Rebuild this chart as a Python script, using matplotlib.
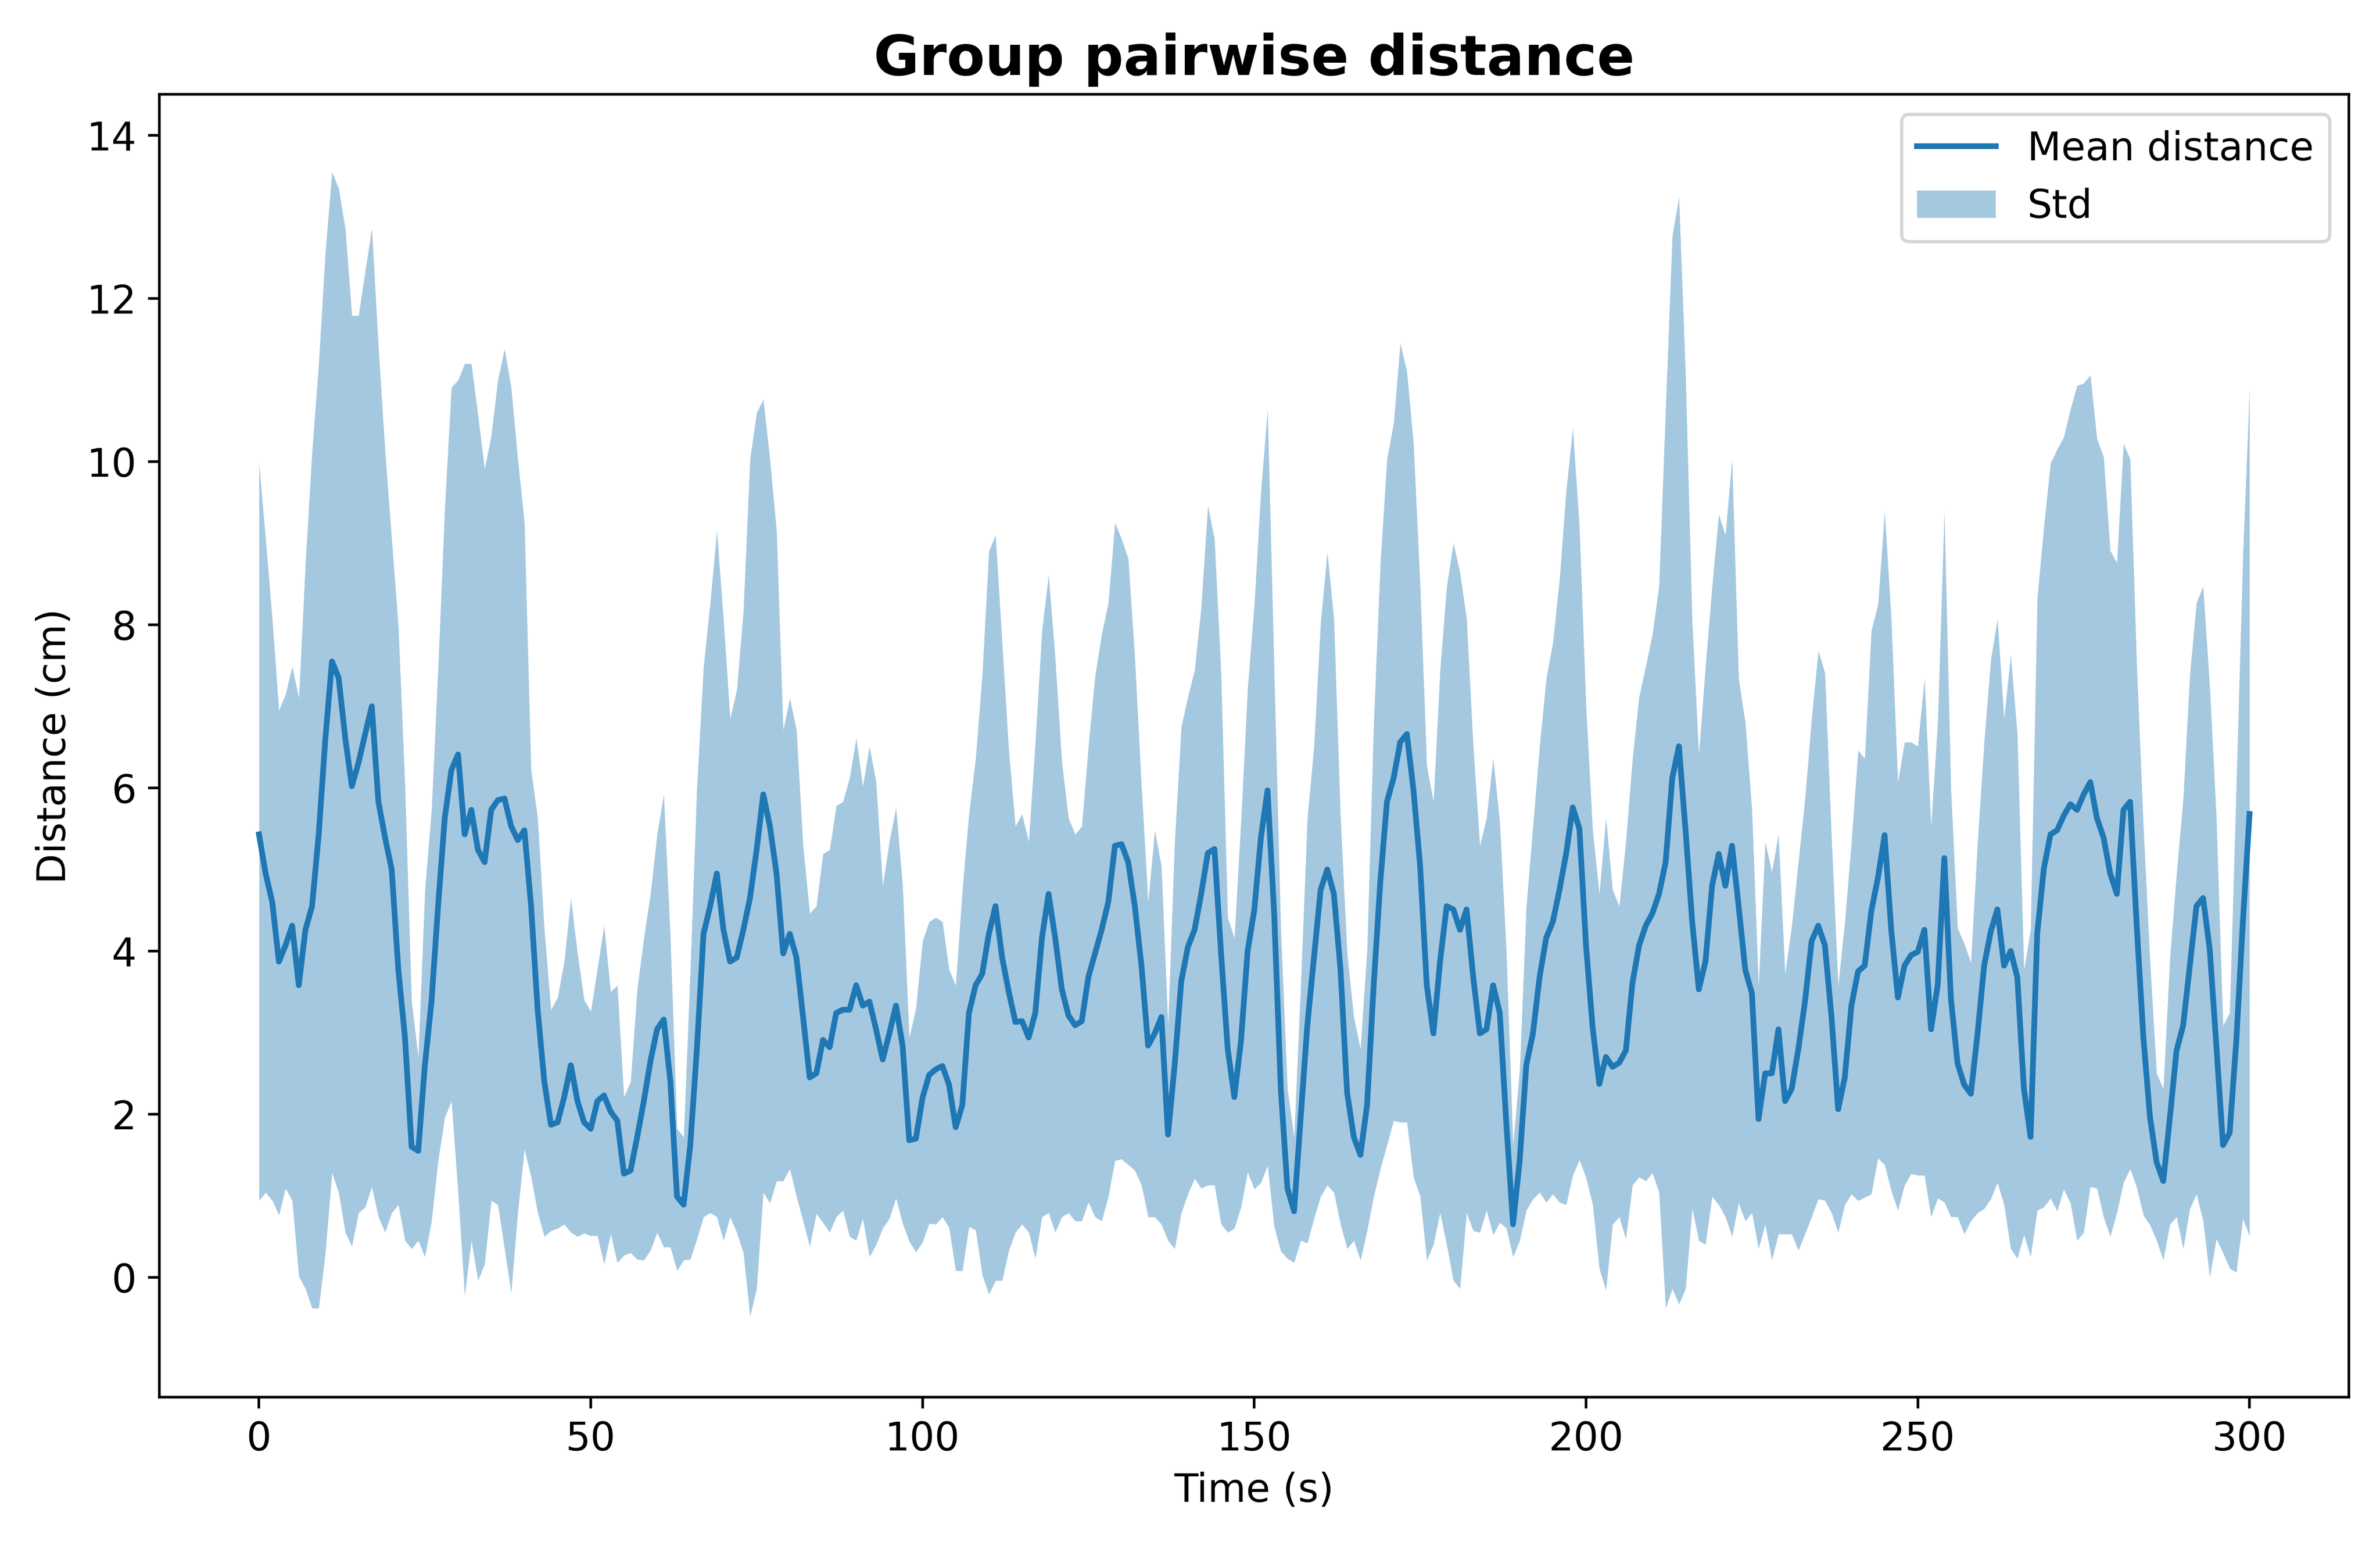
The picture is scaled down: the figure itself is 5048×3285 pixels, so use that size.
import matplotlib
matplotlib.use("Agg")
import matplotlib.pyplot as plt
import numpy as np

# one reading per second, 0..300 s
time_s = list(range(0, 301))

mean_dist = [
    5.43, 4.95, 4.60, 3.87, 4.07, 4.31, 3.58, 4.26, 4.55, 5.43,
    6.60, 7.55, 7.35, 6.61, 6.02, 6.31, 6.66, 7.00, 5.83, 5.39,
    5.00, 3.77, 2.94, 1.60, 1.55, 2.60, 3.38, 4.56, 5.63, 6.22,
    6.41, 5.43, 5.73, 5.24, 5.09, 5.73, 5.85, 5.87, 5.53, 5.36,
    5.48, 4.56, 3.28, 2.40, 1.87, 1.90, 2.21, 2.60, 2.16, 1.90,
    1.82, 2.16, 2.23, 2.03, 1.92, 1.27, 1.31, 1.72, 2.16, 2.65,
    3.04, 3.16, 2.40, 0.99, 0.89, 1.62, 2.80, 4.21, 4.55, 4.95,
    4.26, 3.87, 3.92, 4.26, 4.65, 5.24, 5.92, 5.53, 4.95, 3.97,
    4.21, 3.92, 3.19, 2.45, 2.50, 2.91, 2.82, 3.24, 3.28, 3.28,
    3.58, 3.33, 3.38, 3.04, 2.67, 2.99, 3.33, 2.84, 1.68, 1.70,
    2.20, 2.48, 2.55, 2.59, 2.36, 1.84, 2.11, 3.24, 3.58, 3.72,
    4.21, 4.55, 3.92, 3.50, 3.13, 3.14, 2.94, 3.24, 4.16, 4.70,
    4.16, 3.53, 3.21, 3.09, 3.14, 3.68, 3.97, 4.26, 4.60, 5.29,
    5.31, 5.09, 4.55, 3.82, 2.84, 2.99, 3.19, 1.75, 2.60, 3.63,
    4.05, 4.26, 4.70, 5.20, 5.25, 3.97, 2.80, 2.21, 2.90, 4.00,
    4.50, 5.39, 5.97, 4.46, 2.31, 1.09, 0.81, 1.96, 3.09, 3.92,
    4.75, 5.00, 4.70, 3.77, 2.26, 1.72, 1.50, 2.11, 3.58, 4.85,
    5.83, 6.12, 6.56, 6.66, 5.97, 5.04, 3.58, 2.99, 3.87, 4.55,
    4.51, 4.26, 4.51, 3.68, 2.99, 3.04, 3.58, 3.24, 1.87, 0.65,
    1.43, 2.60, 2.99, 3.68, 4.16, 4.36, 4.75, 5.19, 5.76, 5.50,
    4.07, 3.06, 2.37, 2.70, 2.58, 2.63, 2.78, 3.61, 4.07, 4.31,
    4.46, 4.70, 5.09, 6.12, 6.51, 5.48, 4.36, 3.53, 3.87, 4.80,
    5.19, 4.80, 5.29, 4.55, 3.77, 3.48, 1.94, 2.50, 2.50, 3.04,
    2.16, 2.31, 2.80, 3.38, 4.12, 4.31, 4.07, 3.19, 2.06, 2.45,
    3.33, 3.75, 3.82, 4.49, 4.90, 5.42, 4.26, 3.43, 3.82, 3.95,
    3.99, 4.26, 3.04, 3.58, 5.14, 3.41, 2.62, 2.36, 2.25, 2.98,
    3.82, 4.24, 4.51, 3.82, 4.00, 3.68, 2.31, 1.72, 4.21, 5.01,
    5.43, 5.48, 5.66, 5.80, 5.73, 5.92, 6.07, 5.63, 5.39, 4.95,
    4.70, 5.73, 5.83, 4.31, 2.94, 1.96, 1.41, 1.18, 1.96, 2.78,
    3.09, 3.82, 4.55, 4.65, 4.02, 2.84, 1.62, 1.77, 2.89, 4.36,
    5.68,
]

# upper edge of the std band (mean + std)
band_hi = [
    9.98, 9.05, 8.07, 6.95, 7.15, 7.49, 7.10, 8.76, 10.13, 11.20,
    12.57, 13.55, 13.35, 12.86, 11.79, 11.79, 12.33, 12.86, 11.40, 10.13,
    9.05, 7.98, 6.02, 3.38, 2.70, 4.75, 5.73, 7.49, 9.44, 10.91,
    11.00, 11.20, 11.20, 10.57, 9.91, 10.32, 11.00, 11.38, 10.91, 10.03,
    9.25, 6.22, 5.63, 4.26, 3.28, 3.43, 3.87, 4.65, 3.97, 3.40,
    3.26, 3.78, 4.31, 3.50, 3.58, 2.21, 2.40, 3.53, 4.16, 4.70,
    5.43, 5.92, 4.16, 1.82, 1.72, 3.77, 6.02, 7.49, 8.27, 9.15,
    8.07, 6.85, 7.20, 8.17, 10.03, 10.60, 10.76, 10.03, 9.15, 6.71,
    7.10, 6.71, 5.29, 4.46, 4.55, 5.19, 5.24, 5.78, 5.83, 6.12,
    6.61, 6.02, 6.51, 6.07, 4.80, 5.34, 5.76, 4.80, 2.94, 3.30,
    4.12, 4.36, 4.41, 4.36, 3.77, 3.58, 4.75, 5.68, 6.36, 7.39,
    8.90, 9.10, 7.78, 6.46, 5.53, 5.68, 5.34, 6.56, 7.93, 8.61,
    7.59, 6.31, 5.63, 5.43, 5.53, 6.51, 7.37, 7.88, 8.27, 9.25,
    9.05, 8.81, 7.59, 6.02, 4.60, 5.48, 5.04, 3.09, 5.34, 6.75,
    7.12, 7.44, 8.22, 9.46, 9.05, 7.39, 4.41, 4.16, 5.60, 7.22,
    8.25, 9.64, 10.64, 7.44, 4.26, 2.31, 1.72, 3.58, 5.63, 6.51,
    8.03, 8.89, 8.07, 5.63, 3.97, 3.19, 2.80, 4.02, 6.80, 8.76,
    10.03, 10.47, 11.45, 11.10, 10.22, 8.47, 6.27, 5.83, 7.44, 8.47,
    9.00, 8.64, 8.07, 6.51, 5.29, 5.63, 6.36, 5.58, 3.97, 1.62,
    2.55, 4.55, 5.53, 6.51, 7.34, 7.78, 8.56, 9.64, 10.41, 9.20,
    7.00, 5.48, 4.70, 5.63, 4.75, 4.55, 5.34, 6.36, 7.12, 7.49,
    7.88, 8.48, 10.66, 12.77, 13.24, 11.06, 8.03, 6.41, 7.49, 8.47,
    9.35, 9.10, 10.03, 7.34, 6.80, 5.73, 3.58, 5.34, 4.97, 5.43,
    3.72, 4.31, 5.09, 5.87, 6.85, 7.68, 7.41, 5.39, 3.58, 4.36,
    5.34, 6.46, 6.36, 7.93, 8.25, 9.39, 8.07, 6.07, 6.56, 6.56,
    6.51, 7.34, 5.53, 6.80, 9.39, 5.97, 4.28, 4.09, 3.86, 5.32,
    6.56, 7.57, 8.07, 6.85, 7.63, 6.66, 3.77, 4.26, 8.32, 9.20,
    9.98, 10.15, 10.30, 10.64, 10.93, 10.96, 11.06, 10.28, 10.06, 8.91,
    8.76, 10.22, 10.03, 7.49, 5.53, 3.87, 2.50, 2.31, 3.92, 4.95,
    5.87, 7.39, 8.27, 8.47, 7.24, 5.63, 3.09, 3.24, 6.02, 8.86,
    10.91,
]

# lower edge of the std band (mean - std)
band_lo = [
    0.94, 1.04, 0.94, 0.76, 1.09, 0.94, 0.01, -0.14, -0.38, -0.38,
    0.30, 1.28, 1.04, 0.55, 0.38, 0.79, 0.86, 1.11, 0.74, 0.55,
    0.79, 0.89, 0.45, 0.35, 0.45, 0.25, 0.69, 1.43, 1.96, 2.16,
    1.04, -0.23, 0.45, -0.04, 0.16, 0.94, 0.89, 0.35, -0.19, 0.79,
    1.57, 1.23, 0.79, 0.50, 0.57, 0.60, 0.65, 0.55, 0.50, 0.54,
    0.51, 0.51, 0.16, 0.53, 0.18, 0.27, 0.30, 0.22, 0.21, 0.33,
    0.55, 0.37, 0.37, 0.08, 0.21, 0.22, 0.47, 0.74, 0.79, 0.74,
    0.45, 0.74, 0.55, 0.30, -0.48, -0.14, 1.04, 0.91, 1.18, 1.18,
    1.33, 0.99, 0.69, 0.38, 0.78, 0.67, 0.55, 0.74, 0.82, 0.50,
    0.45, 0.72, 0.25, 0.40, 0.60, 0.72, 0.97, 0.66, 0.44, 0.31,
    0.43, 0.66, 0.65, 0.74, 0.61, 0.08, 0.08, 0.62, 0.58, 0.03,
    -0.21, -0.04, -0.04, 0.33, 0.55, 0.65, 0.55, 0.23, 0.74, 0.79,
    0.55, 0.74, 0.79, 0.69, 0.69, 0.92, 0.74, 0.69, 0.99, 1.43,
    1.45, 1.38, 1.31, 1.13, 0.74, 0.74, 0.65, 0.45, 0.35, 0.79,
    1.02, 1.21, 1.09, 1.13, 1.13, 0.65, 0.55, 0.60, 0.86, 1.29,
    1.08, 1.16, 1.37, 0.62, 0.32, 0.23, 0.18, 0.45, 0.42, 0.72,
    0.99, 1.13, 1.04, 0.65, 0.35, 0.45, 0.21, 0.57, 0.99, 1.33,
    1.62, 1.92, 1.90, 1.90, 1.23, 0.99, 0.21, 0.40, 0.79, 0.40,
    -0.04, -0.14, 0.79, 0.57, 0.55, 0.82, 0.52, 0.67, 0.60, 0.25,
    0.45, 0.82, 0.96, 1.04, 0.92, 1.02, 0.92, 0.89, 1.25, 1.44,
    1.22, 0.89, 0.11, -0.16, 0.65, 0.74, 0.47, 1.13, 1.23, 1.18,
    1.28, 1.04, -0.38, -0.14, -0.33, -0.14, 0.84, 0.45, 0.40, 0.99,
    0.89, 0.74, 0.50, 0.91, 0.69, 0.79, 0.35, 0.65, 0.21, 0.53,
    0.53, 0.53, 0.33, 0.53, 0.74, 0.96, 0.94, 0.79, 0.55, 0.89,
    1.02, 0.94, 0.98, 1.02, 1.46, 1.38, 1.06, 0.82, 1.13, 1.27,
    1.25, 1.25, 0.74, 0.97, 0.92, 0.74, 0.74, 0.53, 0.69, 0.79,
    0.84, 0.96, 1.16, 0.89, 0.35, 0.23, 0.52, 0.25, 0.82, 0.86,
    0.97, 0.81, 1.08, 0.91, 0.45, 0.55, 1.11, 1.09, 0.74, 0.50,
    0.79, 1.16, 1.33, 1.10, 0.76, 0.64, 0.45, 0.21, 0.65, 0.74,
    0.35, 0.84, 1.02, 0.69, 0.00, 0.47, 0.30, 0.11, 0.06, 0.72,
    0.50,
]

plt.rcParams["font.size"] = 12

fig, ax = plt.subplots(figsize=(10.096, 6.57), dpi=500)
fig.subplots_adjust(left=0.067, right=0.987, top=0.939, bottom=0.098)

ax.plot(time_s, mean_dist, color="C0", lw=1.75, label="Mean distance")
ax.fill_between(time_s, band_lo, band_hi, color="C0", alpha=0.4,
                linewidth=0, label="Std")

ax.set_xticks(np.arange(0, 301, 50))
ax.set_ylim(-1.47, 14.5)
ax.tick_params(labelsize=12)
ax.set_xlabel("Time (s)", fontsize=12)
ax.set_ylabel("Distance (cm)", fontsize=12)
ax.set_title("Group pairwise distance", fontsize=17, fontweight="bold")
ax.legend(loc="upper right", fontsize=12)

fig.savefig("out.png", dpi=500)
